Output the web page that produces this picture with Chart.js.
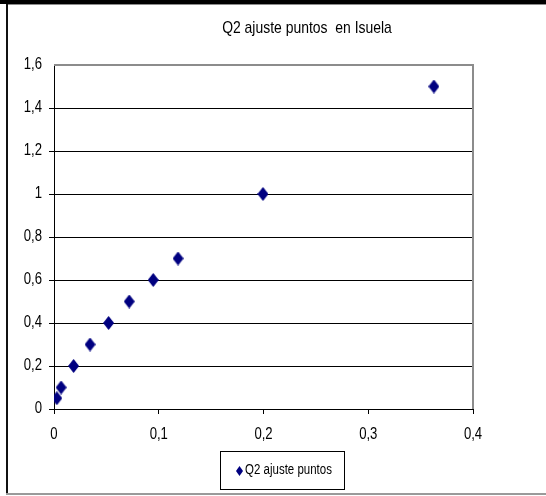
<!DOCTYPE html>
<html>
<head>
<meta charset="utf-8">
<script src="https://cdn.jsdelivr.net/npm/chart.js@4/dist/chart.umd.min.js"></script>
<style>
  html, body { margin: 0; padding: 0; background: #ffffff; }
  #wrap { width: 546px; height: 496px; position: relative; }
</style>
</head>
<body>
<div id="wrap"><canvas id="c" width="546" height="496"></canvas></div>
<script>
// Caudal Q2 frente a puntos de ajuste
const chartTitle = 'Q2 ajuste puntos  en Isuela';
const seriesName = 'Q2 ajuste puntos';
const xValues = [0.0027, 0.0068, 0.0187, 0.0344, 0.0521, 0.0718, 0.0947, 0.1184, 0.1995, 0.3627];
const yValues = [0.05, 0.1, 0.2, 0.3, 0.4, 0.5, 0.6, 0.7, 1.0, 1.5];
const xTickLabels = ['0', '0,1', '0,2', '0,3', '0,4'];
const yTickLabels = ['0', '0,2', '0,4', '0,6', '0,8', '1', '1,2', '1,4', '1,6'];

const FONT = '"Liberation Sans", Arial, sans-serif';
const NAVY = '#000080';
const NARROW = 0.82;   // horizontal squeeze for a narrow face

const canvas = document.getElementById('c');
const ctx2d = canvas.getContext('2d');
// Narrow text: every string is drawn squeezed around its anchor point
const baseFillText = ctx2d.fillText.bind(ctx2d);
ctx2d.fillText = function (text, x, y, maxWidth) {
  this.save();
  this.translate(x, y);
  this.scale(NARROW, 1);
  if (maxWidth !== undefined) baseFillText(text, 0, 0, maxWidth / NARROW);
  else baseFillText(text, 0, 0);
  this.restore();
};

function diamond(w, h, color) {
  const cv = document.createElement('canvas');
  cv.width = w; cv.height = h;
  const g = cv.getContext('2d');
  g.fillStyle = color;
  g.beginPath();
  g.moveTo(w / 2, 0);
  g.lineTo(w, h / 2);
  g.lineTo(w / 2, h);
  g.lineTo(0, h / 2);
  g.closePath();
  g.fill();
  return cv;
}
const markPoint = diamond(11, 14, NAVY);
const legendPoint = diamond(7, 10, NAVY);

const points = xValues.map((x, i) => ({ x: x, y: yValues[i] }));

// page frame, plot border and the boxed legend
const framePlugin = {
  id: 'frame',
  afterLayout(chart) {
    // title centred over the page frame
    const tb = chart.titleBlock;
    if (tb) {
      const mid = 307;
      tb.left = 2 * mid - tb.right;
    }
  },
  beforeDraw(chart) {
    const ctx = chart.ctx;
    ctx.save();
    ctx.fillStyle = '#ffffff';
    ctx.fillRect(0, 0, chart.width, chart.height);
    ctx.fillStyle = '#000000';
    ctx.fillRect(0, 0, chart.width, 4);
    ctx.fillStyle = '#8c8c8c';
    ctx.fillRect(7, 4, chart.width - 7, 1);
    ctx.fillStyle = '#111111';
    ctx.fillRect(6, 4, 2, 491);
    ctx.fillStyle = '#9a9a9a';
    ctx.fillRect(6, 493, chart.width - 6, 2);
    ctx.restore();
  },
  beforeDatasetsDraw(chart) {
    const a = chart.chartArea;
    const ctx = chart.ctx;
    ctx.save();
    ctx.strokeStyle = '#8c8c8c';
    ctx.lineWidth = 2;
    ctx.beginPath();
    ctx.moveTo(a.left, a.top);
    ctx.lineTo(a.right, a.top);
    ctx.lineTo(a.right, a.bottom);
    ctx.stroke();
    ctx.restore();
  },
  afterDraw(chart) {
    const ctx = chart.ctx;
    const label = chart.data.datasets[0].label;
    ctx.save();
    ctx.font = '14px ' + FONT;
    const tw = ctx.measureText(label).width * NARROW;
    const bx = 220, by = 451, bw = 124, bh = 38;
    ctx.fillStyle = '#ffffff';
    ctx.fillRect(bx, by, bw, bh);
    ctx.strokeStyle = '#000000';
    ctx.lineWidth = 1;
    ctx.strokeRect(bx + 0.5, by + 0.5, bw, bh);
    const cy = by + bh / 2 + 0.5;
    const total = legendPoint.width + 2 + tw;
    const sx = bx + (bw - total) / 2 + 2;
    ctx.drawImage(legendPoint, Math.round(sx), Math.round(cy - legendPoint.height / 2));
    ctx.fillStyle = '#000000';
    ctx.textBaseline = 'middle';
    ctx.textAlign = 'left';
    ctx.fillText(label, sx + legendPoint.width + 2, cy);
    ctx.restore();
  }
};

new Chart(canvas, {
  type: 'scatter',
  data: {
    datasets: [{
      label: seriesName,
      data: points,
      pointStyle: markPoint,
      pointRadius: 6,
      pointHoverRadius: 6,
      backgroundColor: NAVY,
      borderColor: NAVY,
      showLine: false
    }]
  },
  options: {
    responsive: false,
    animation: false,
    devicePixelRatio: 1,
    layout: { padding: { left: 0, right: 73, top: 0, bottom: 0 } },
    plugins: {
      legend: { display: false },
      tooltip: { enabled: false },
      title: {
        display: true,
        text: chartTitle,
        color: '#000000',
        font: { family: FONT, size: 17, weight: 'normal' },
        padding: { top: 18, bottom: 26.6 },
        align: 'center'
      }
    },
    scales: {
      x: {
        type: 'linear',
        min: 0,
        max: 0.4,
        afterFit(scale) { scale.height = 87; },
        ticks: {
          stepSize: 0.1,
          color: '#000000',
          font: { family: FONT, size: 16 },
          padding: 11,
          maxRotation: 0,
          callback: (v, i) => xTickLabels[i]
        },
        grid: {
          drawOnChartArea: false,
          drawTicks: true,
          tickLength: 5,
          color: '#000000'
        },
        border: { display: true, color: '#000000', width: 1 }
      },
      y: {
        type: 'linear',
        min: 0,
        max: 1.6,
        afterFit(scale) { scale.width = 54; },
        ticks: {
          stepSize: 0.2,
          color: '#000000',
          font: { family: FONT, size: 16 },
          padding: 7,
          callback: (v, i) => yTickLabels[i]
        },
        grid: {
          drawOnChartArea: true,
          drawTicks: true,
          tickLength: 5,
          color: (c) => (c.index === yTickLabels.length - 1 ? 'rgba(0,0,0,0)' : '#000000'),
          lineWidth: 1
        },
        border: { display: true, color: '#000000', width: 1 }
      }
    }
  },
  plugins: [framePlugin]
});
</script>
</body>
</html>
